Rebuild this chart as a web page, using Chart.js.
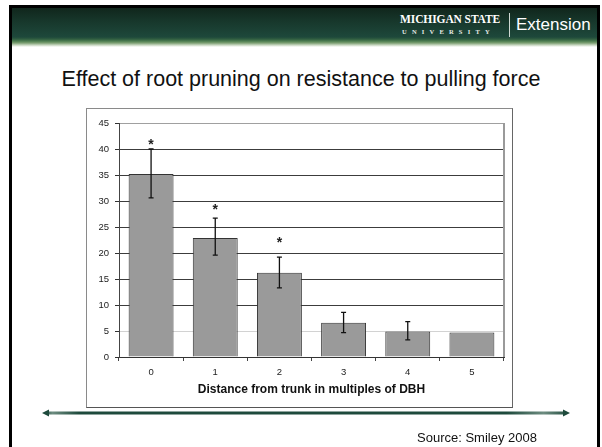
<!DOCTYPE html>
<html>
<head>
<meta charset="utf-8">
<script src="https://cdn.jsdelivr.net/npm/chart.js@4.4.1/dist/chart.umd.min.js"></script>
<style>
  html, body { margin: 0; padding: 0; background: #fff; }
  body { width: 602px; height: 447px; position: relative; overflow: hidden;
         font-family: "Liberation Sans", Arial, sans-serif; }
  .frame { position: absolute; left: 9px; top: 5px; width: 585px; height: 460px;
           border: 3px solid #000; border-bottom: none; }
  .header { position: absolute; left: 12px; top: 8px; width: 585px; height: 40px;
            background: linear-gradient(to bottom, #10261c 0px, #17382c 14px, #1e483b 29px,
              #2e5b40 31px, #4b7b4e 33px, #7c9f72 35px, #c4d4bd 37px, #ffffff 39px); }
  .msu1 { position: absolute; left: 400px; top: 13px; color: #fff; white-space: nowrap;
          font-family: "Liberation Serif", "DejaVu Serif", serif; font-size: 11.5px; font-weight: bold; letter-spacing: -0.1px; }
  .msu2 { position: absolute; left: 402px; top: 28px; color: #e8ece8; white-space: nowrap;
          font-family: "Liberation Serif", serif; font-size: 6.5px; font-weight: bold; letter-spacing: 5.2px; }
  .divider { position: absolute; left: 509px; top: 13px; width: 1px; height: 24px; background: #cfd8d2; }
  .ext { position: absolute; left: 516px; top: 15px; color: #fff; white-space: nowrap;
         font-family: "Liberation Sans", Arial, sans-serif; font-size: 17px; }
  .title { position: absolute; left: 0; width: 602px; top: 67px; text-align: center;
           font-size: 21.5px; color: #111; white-space: nowrap; }
  .box { position: absolute; left: 86px; top: 108px; width: 427px; height: 300px; box-sizing: border-box;
         border: 1px solid #8a8a8a; border-right-color: #666; border-bottom-color: #555; background: #fff; }
  .box canvas { position: absolute; left: 0; top: 0; }
  .arrow { position: absolute; left: 0; top: 400px; }
  .source { position: absolute; left: 417px; top: 430px; font-size: 13px; color: #111; white-space: nowrap; }
</style>
</head>
<body>
<div class="frame"></div>
<div class="header"></div>
<div class="msu1">MICHIGAN STATE</div>
<div class="msu2">UNIVERSITY</div>
<div class="divider"></div>
<div class="ext">Extension</div>
<div class="title">Effect of root pruning on resistance to pulling force</div>
<div class="box"><canvas id="chart" width="425" height="298"></canvas></div>
<svg class="arrow" width="602" height="26">
  <defs>
    <linearGradient id="shaft" x1="42" y1="0" x2="570" y2="0" gradientUnits="userSpaceOnUse">
      <stop offset="0" stop-color="#1e4a3c"/>
      <stop offset="0.02" stop-color="#6d8c80"/>
      <stop offset="0.07" stop-color="#1e4a3c"/>
      <stop offset="0.88" stop-color="#1e4a3c"/>
      <stop offset="0.95" stop-color="#6d8c80"/>
      <stop offset="1" stop-color="#1e4a3c"/>
    </linearGradient>
  </defs>
  <line x1="47" y1="13" x2="565" y2="13" stroke="url(#shaft)" stroke-width="3"/>
  <polygon points="42,13 49,9.5 49,16.5" fill="#1e4a3c"/>
  <polygon points="570,13 563,9.5 563,16.5" fill="#1e4a3c"/>
</svg>
<div class="source">Source: Smiley 2008</div>

<script>
// Distance from trunk (multiples of DBH) and mean pulling-force resistance
const categories = ['0', '1', '2', '3', '4', '5'];
const meanForce  = [35.2, 22.9, 16.2, 6.6, 4.9, 4.7];
const errLow     = [30.6, 19.6, 13.3, 4.7, 3.3, null];
const errHigh    = [40.0, 26.7, 19.2, 8.6, 6.8, null];
// significance markers (*) and the level they are printed at
const starLevel  = [41.3, 28.9, 22.4, null, null, null];
const yMin = 0, yMax = 45, yStep = 5;
const xTitle = 'Distance from trunk in multiples of DBH';

Chart.defaults.font.family = '"Liberation Sans", Arial, sans-serif';

const errorBars = {
  id: 'errorBars',
  afterDatasetsDraw(chart) {
    const ctx = chart.ctx;
    const y = chart.scales.y;
    const meta = chart.getDatasetMeta(0);
    ctx.save();
    ctx.strokeStyle = '#111';
    ctx.lineWidth = 1.3;
    meta.data.forEach((bar, i) => {
      if (errLow[i] == null) return;
      const yt = y.getPixelForValue(errHigh[i]);
      const yb = y.getPixelForValue(errLow[i]);
      ctx.beginPath();
      ctx.moveTo(bar.x, yt); ctx.lineTo(bar.x, yb);
      ctx.moveTo(bar.x - 2.5, yt); ctx.lineTo(bar.x + 2.5, yt);
      ctx.moveTo(bar.x - 2.5, yb); ctx.lineTo(bar.x + 2.5, yb);
      ctx.stroke();
    });
    ctx.fillStyle = '#222';
    ctx.font = 'bold 14px "Liberation Sans", Arial, sans-serif';
    ctx.textAlign = 'center';
    ctx.textBaseline = 'middle';
    meta.data.forEach((bar, i) => {
      if (starLevel[i] == null) return;
      ctx.fillText('*', bar.x, y.getPixelForValue(starLevel[i]) + 3);
    });
    ctx.restore();
  }
};

const plotFrame = {
  id: 'plotFrame',
  beforeDatasetsDraw(chart) {
    const { ctx, chartArea: a } = chart;
    ctx.save();
    ctx.strokeStyle = '#9a9a9a';
    ctx.lineWidth = 2;
    ctx.beginPath();
    ctx.moveTo(a.right, a.top);
    ctx.lineTo(a.right, a.bottom);
    ctx.stroke();
    ctx.restore();
  }
};

new Chart(document.getElementById('chart'), {
  type: 'bar',
  data: {
    labels: categories,
    datasets: [{
      data: meanForce,
      backgroundColor: '#9a9a9a',
      borderColor: '#333',
      borderWidth: 1,
      barPercentage: 0.7,
      categoryPercentage: 1
    }]
  },
  options: {
    responsive: false,
    animation: false,
    devicePixelRatio: 1,
    layout: { padding: { top: 14, right: 8, left: 0, bottom: 0 } },
    plugins: {
      legend: { display: false },
      tooltip: { enabled: false }
    },
    scales: {
      x: {
        grid: { offset: true, drawOnChartArea: false, drawTicks: true, tickLength: 4, tickColor: '#444' },
        border: { display: true, color: '#333', width: 1 },
        ticks: { color: '#222', font: { size: 9.5 }, padding: 6 },
        title: {
          display: true,
          text: xTitle,
          color: '#111',
          font: { size: 12, weight: 'bold' },
          padding: { top: 0, bottom: 9.8 }
        },
        afterFit(s) { s.height = 50; }
      },
      y: {
        min: yMin, max: yMax,
        ticks: { stepSize: yStep, color: '#222', font: { size: 9.5 }, padding: 6 },
        grid: {
          color(c) {
            const v = c.tick && c.tick.value;
            if (v === 5) return '#d2d2d2';
            if (v === 45) return '#a0a0a0';
            return '#3c3c3c';
          },
          tickLength: 4,
          tickColor: '#333'
        },
        border: { display: true, color: '#444', width: 1 },
        afterFit(s) { s.width = 32; }
      }
    }
  },
  plugins: [plotFrame, errorBars]
});
</script>
</body>
</html>
